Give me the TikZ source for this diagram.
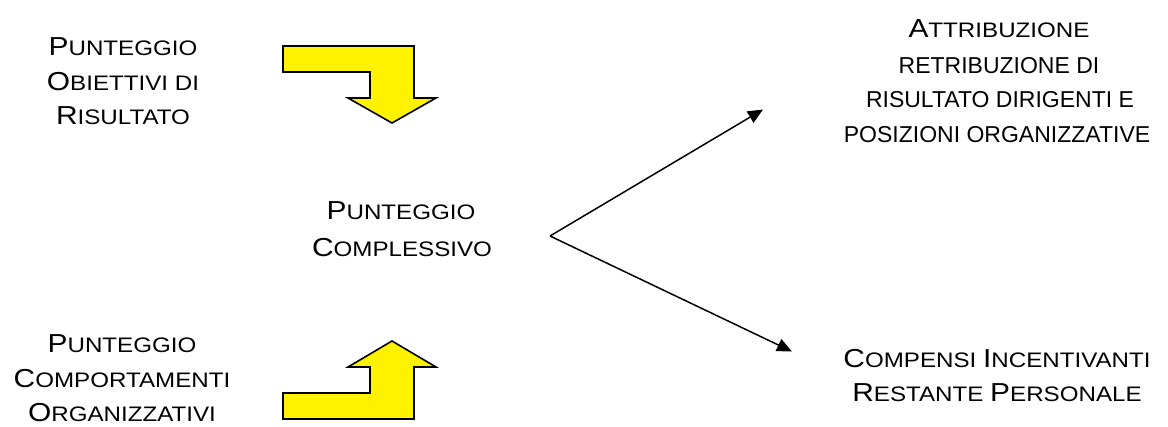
\documentclass[tikz,border=0pt]{standalone}
\usepackage{fontspec}
\setmainfont{Liberation Sans}
\newfontfamily\scfam{Liberation Sans}[FakeStretch=1.15]
\usetikzlibrary{arrows.meta}
\newcommand\Bg[1]{{\fontsize{26}{30}\selectfont #1}}
\newcommand\Sm[1]{{\fontsize{21}{30}\selectfont #1}}
\tikzset{
  sctext/.style={font=\scfam, anchor=base, inner sep=0pt},
  plaintext/.style={font=\fontsize{23}{28}\selectfont, anchor=base, inner sep=0pt},
  bent/.style={fill=yellow, draw=black, line width=1.6pt, line join=miter},
  flow/.style={draw=black, line width=1.5pt, -{Triangle[length=15pt,width=13pt]}}
}
\begin{document}
\begin{tikzpicture}[x=1pt,y=-1pt]
\useasboundingbox (0,0) rectangle (1168,426);

% yellow bent arrows
\draw[bent] (283,46) -- (414,46) -- (414,98) -- (436,98) -- (392,123) -- (348,98)
  -- (370,98) -- (370,72) -- (283,72) -- cycle;
\draw[bent] (283,419) -- (414,419) -- (414,367) -- (436,367) -- (392,341) -- (348,367)
  -- (370,367) -- (370,393) -- (283,393) -- cycle;

% top-left text
\node[sctext] (ob1) at (123,55)  {\Bg{P}\Sm{UNTEGGIO}};
\node[sctext] (ob2) at (123,90)  {\Bg{O}\Sm{BIETTIVI DI}};
\node[sctext] (ob3) at (123,124) {\Bg{R}\Sm{ISULTATO}};

% bottom-left text
\node[sctext] (co1) at (122,352) {\Bg{P}\Sm{UNTEGGIO}};
\node[sctext] (co2) at (122,387) {\Bg{C}\Sm{OMPORTAMENTI}};
\node[sctext] (co3) at (122,421) {\Bg{O}\Sm{RGANIZZATIVI}};

% centre text
\node[sctext] (pc1) at (401,219) {\Bg{P}\Sm{UNTEGGIO}};
\node[sctext] (pc2) at (402,256) {\Bg{C}\Sm{OMPLESSIVO}};

% top-right text
\node[sctext]    (at1) at (999,37)  {\Bg{A}\Sm{TTRIBUZIONE}};
\node[plaintext] (at2) at (999,73)  {RETRIBUZIONE DI};
\node[plaintext] (at3) at (1000,107) {RISULTATO DIRIGENTI E};
\node[plaintext] (at4) at (997,142) {POSIZIONI ORGANIZZATIVE};

% bottom-right text
\node[sctext] (cp1) at (997,367) {\Bg{C}\Sm{OMPENSI }\Bg{I}\Sm{NCENTIVANTI}};
\node[sctext] (cp2) at (997,401) {\Bg{R}\Sm{ESTANTE }\Bg{P}\Sm{ERSONALE}};

% connectors
\coordinate (v)  at (550,236);
\coordinate (t1) at (763,109.5);
\coordinate (t2) at (792,351.5);
\draw[flow] (v) -- (t1);
\draw[flow] (v) -- (t2);
\end{tikzpicture}
\end{document}
